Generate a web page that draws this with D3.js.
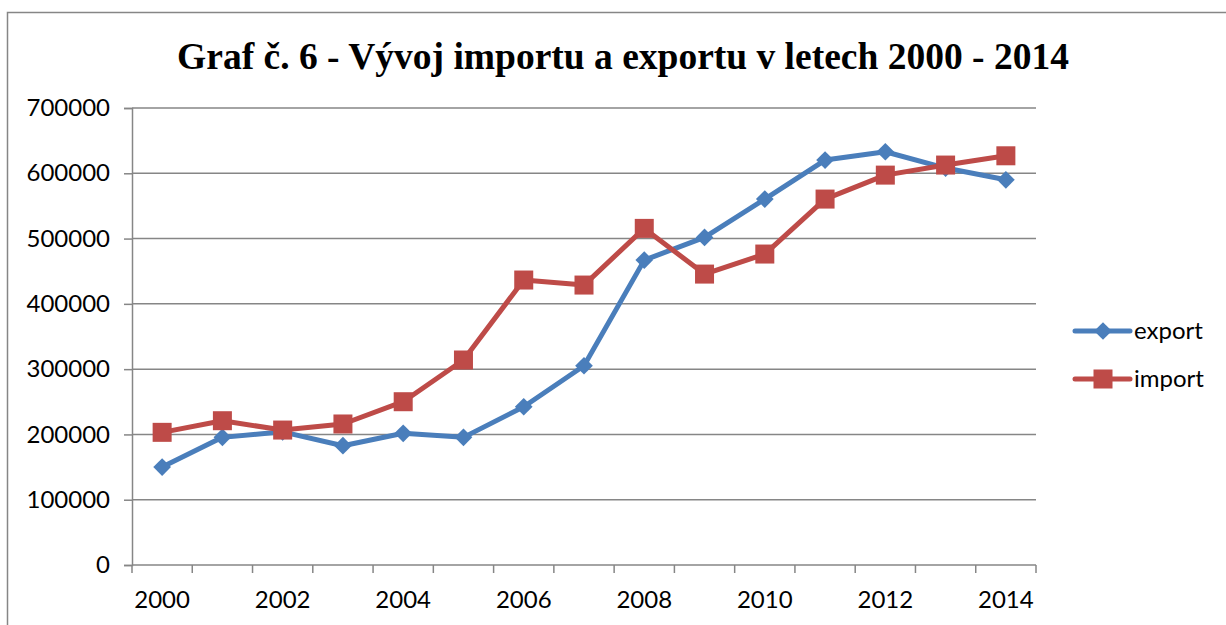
<!DOCTYPE html>
<html><head><meta charset="utf-8">
<script src="https://cdn.jsdelivr.net/npm/d3@7"></script>
<style>body{margin:0;background:#fff}svg{display:block}</style>
</head><body>
<script>
const years = [2000,2001,2002,2003,2004,2005,2006,2007,2008,2009,2010,2011,2012,2013,2014];
const exportValues = [150000,195500,204000,182700,201700,195500,242400,305200,467000,501800,560500,620200,633000,608000,590000];
const importValues = [203200,221000,206700,216000,250100,314000,436500,428800,515600,445600,476300,560500,597200,612600,626800];
const yTicks = [0,100000,200000,300000,400000,500000,600000,700000];
const xLabels = [2000,2002,2004,2006,2008,2010,2012,2014];
const seriesNames = ["export","import"];
const colors = ["#4a7ebb","#be4b48"];

(function(){
const W=1226,H=625;
const svg=d3.select("body").append("svg").attr("width",W).attr("height",H);
svg.append("rect").attr("x",7.5).attr("y",12.5).attr("width",1240).attr("height",640).attr("fill","none").attr("stroke","#868686").attr("stroke-width",1.5);

const pL=132,pR=1036,pT=108,pB=565;
const x=d3.scaleBand().domain(years).range([pL,pR]);
const y=d3.scaleLinear().domain([0,700000]).range([pB,pT]);
const font="Lato, 'Open Sans', sans-serif";

svg.append("text").attr("x",623).attr("y",69).attr("text-anchor","middle")
 .attr("font-family","'Liberation Serif','Times New Roman',serif").attr("font-weight","bold").attr("font-size",37.5)
 .text("Graf č. 6 - Vývoj importu a exportu v letech 2000 - 2014");

svg.append("g").selectAll("line").data(yTicks.filter(d=>d>0)).join("line")
 .attr("x1",pL).attr("x2",pR).attr("y1",d=>y(d)).attr("y2",d=>y(d))
 .attr("stroke","#868686").attr("stroke-width",1.5);

const yAx=svg.append("g").attr("transform",`translate(${pL},0)`)
 .call(d3.axisLeft(y).tickValues(yTicks).tickSize(8).tickPadding(14).tickFormat(d3.format("d")));
yAx.select(".domain").attr("stroke","#868686").attr("stroke-width",1.5);
yAx.selectAll(".tick line").attr("stroke","#868686").attr("stroke-width",1.5);
yAx.selectAll("text").attr("font-family",font).attr("font-size",24).attr("fill","#000");

const xg=svg.append("g").attr("transform",`translate(0,${pB})`);
xg.append("line").attr("x1",pL).attr("x2",pR).attr("stroke","#868686").attr("stroke-width",1.5);
const bounds=years.map(d=>x(d)).concat([pR]);
xg.selectAll("line.t").data(bounds).join("line").attr("class","t")
 .attr("x1",d=>d).attr("x2",d=>d).attr("y1",0).attr("y2",8).attr("stroke","#868686").attr("stroke-width",1.5);
xg.selectAll("text").data(xLabels).join("text")
 .attr("x",d=>x(d)+x.bandwidth()/2).attr("y",43).attr("text-anchor","middle")
 .attr("font-family",font).attr("font-size",24).text(d=>d);

const cx=d=>x(d)+x.bandwidth()/2;
const line=d3.line().x((d,i)=>cx(years[i])).y(d=>y(d));
const data=[exportValues,importValues];
data.forEach((vals,k)=>{
  svg.append("path").datum(vals).attr("d",line).attr("fill","none").attr("stroke",colors[k]).attr("stroke-width",5).attr("stroke-linejoin","round");
});
const diamond=d3.symbol().type(d3.symbolDiamond2).size(200);
svg.append("g").selectAll("path").data(exportValues).join("path")
 .attr("d",diamond).attr("transform",(d,i)=>`translate(${cx(years[i])},${y(d)})`).attr("fill",colors[0]);
svg.append("g").selectAll("rect").data(importValues).join("rect")
 .attr("x",(d,i)=>cx(years[i])-9.5).attr("y",d=>y(d)-9.5).attr("width",19).attr("height",19).attr("fill",colors[1]);

const lg=svg.append("g");
[331,379].forEach((ly,k)=>{
  lg.append("line").attr("x1",1075).attr("x2",1130).attr("y1",ly).attr("y2",ly).attr("stroke",colors[k]).attr("stroke-width",5).attr("stroke-linecap","round");
  if(k===0) lg.append("path").attr("d",diamond).attr("transform",`translate(1103,${ly})`).attr("fill",colors[0]);
  else lg.append("rect").attr("x",1093.5).attr("y",ly-9.5).attr("width",19).attr("height",19).attr("fill",colors[1]);
  lg.append("text").attr("x",1134).attr("y",ly+8).attr("font-family",font).attr("font-size",24).text(seriesNames[k]);
});
})();
</script>
</body></html>
